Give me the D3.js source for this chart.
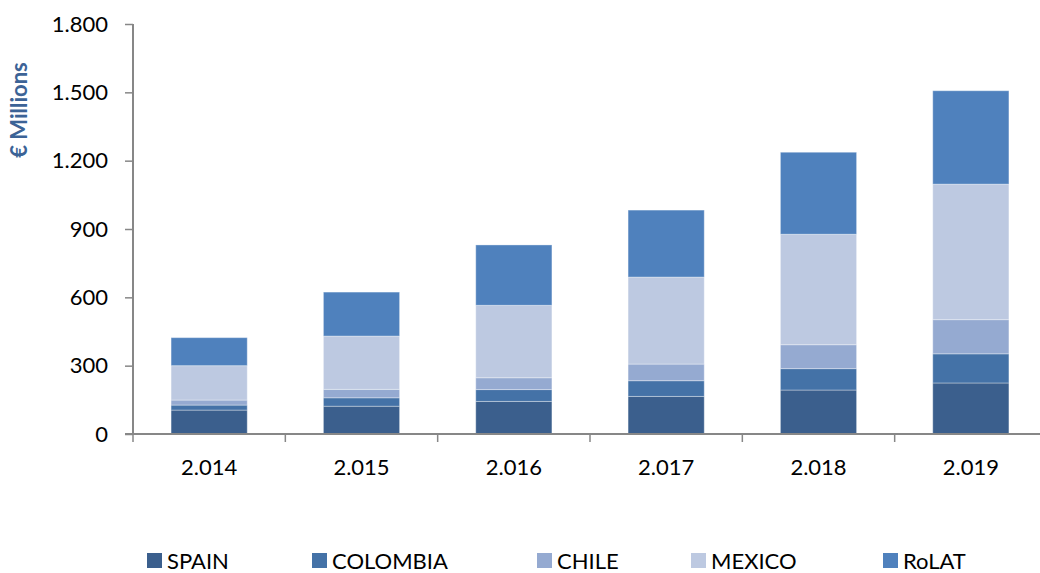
<!DOCTYPE html>
<html>
<head>
<meta charset="utf-8">
<script src="https://cdn.jsdelivr.net/npm/d3@7"></script>
<style>
  html, body { margin: 0; padding: 0; background: #fff; overflow: hidden; }
  svg { display: block; font-family: Lato, "Open Sans", sans-serif; }
</style>
</head>
<body>
<svg id="chart" width="1040" height="573"></svg>
<script>
const years = ["2.014", "2.015", "2.016", "2.017", "2.018", "2.019"];
const seriesNames = ["SPAIN", "COLOMBIA", "CHILE", "MEXICO", "RoLAT"];
const spain    = [105, 122, 143, 165, 193, 224];
const colombia = [22, 37, 52, 69, 94, 128];
const chile    = [22, 37, 52, 73, 105, 150];
const mexico   = [151, 234, 318, 382, 485, 595];
const rolat    = [123, 193, 265, 294, 360, 410];
const yTicks = [0, 300, 600, 900, 1200, 1500, 1800];
const colors = ["#3B5F8D", "#4472A7", "#95AAD1", "#BDC9E1", "#4F81BD"];

const seriesValues = [spain, colombia, chile, mexico, rolat];
const table = years.map((yr, i) => {
  const row = { year: yr };
  seriesNames.forEach((s, k) => row[s] = seriesValues[k][i]);
  return row;
});

const svg = d3.select("#chart");
const pLeft = 133, pRight = 1047, pTop = 24, pBottom = 434;

const x = d3.scaleBand().domain(years).range([pLeft, pRight]).paddingInner(0.5).paddingOuter(0.25);
const xAxisScale = d3.scaleBand().domain(years).range([pLeft, pRight]);
const y = d3.scaleLinear().domain([0, 1800]).range([pBottom, pTop]);

const stack = d3.stack().keys(seriesNames)(table);

svg.append("g").selectAll("g")
  .data(stack).join("g")
  .attr("fill", (d, i) => colors[i])
  .selectAll("rect")
  .data(d => d).join("rect")
  .attr("x", d => x(d.data.year))
  .attr("width", x.bandwidth())
  .attr("y", d => y(d[1]))
  .attr("height", d => y(d[0]) - y(d[1]))
  .attr("stroke", "rgba(255,255,255,0.35)")
  .attr("stroke-width", 1);

// Y axis
const yAxis = svg.append("g").attr("transform", `translate(${pLeft},0)`)
  .call(d3.axisLeft(y).tickValues(yTicks).tickSize(8).tickPadding(17)
    .tickFormat(d => d3.format(",")(d).replace(/,/g, ".")));
yAxis.select(".domain").attr("stroke", "#878787").attr("stroke-width", 2).attr("d", `M0,${pTop}V${pBottom}`);
yAxis.selectAll(".tick line").attr("stroke", "#878787").attr("stroke-width", 1.5);
yAxis.selectAll("text").attr("font-size", 22).attr("fill", "#000").attr("font-family", "Lato, sans-serif");

// X axis
const xAxis = svg.append("g").attr("transform", `translate(0,${pBottom})`)
  .call(d3.axisBottom(xAxisScale).tickSize(0).tickPadding(25));
xAxis.select(".domain").attr("stroke", "#878787").attr("stroke-width", 2).attr("d", `M${pLeft - 8},0H${pRight}`);
xAxis.selectAll("text").attr("font-size", 22).attr("fill", "#000").attr("font-family", "Lato, sans-serif");
const xTickPos = years.map((d, i) => pLeft + i * xAxisScale.step()).concat([pRight]);
xAxis.selectAll(".xt").data(xTickPos).join("line")
  .attr("class", "xt")
  .attr("x1", d => d).attr("x2", d => d).attr("y1", 0).attr("y2", 8)
  .attr("stroke", "#878787").attr("stroke-width", 1.5);

// Y title
svg.append("text")
  .attr("transform", "translate(27,110) rotate(-90)")
  .attr("text-anchor", "middle")
  .attr("font-size", 22).attr("font-weight", "bold")
  .attr("fill", "#3C6396")
  .text("€ Millions");

// Legend
const legendX = [147, 312, 537, 691, 883];
const lg = svg.append("g").selectAll("g").data(seriesNames).join("g")
  .attr("transform", (d, i) => `translate(${legendX[i]},553)`);
lg.append("rect").attr("width", 15).attr("height", 15).attr("fill", (d, i) => colors[i]);
lg.append("text").attr("x", 20).attr("y", 15.5).attr("font-size", 22).attr("fill", "#000").text(d => d);
</script>
</body>
</html>
